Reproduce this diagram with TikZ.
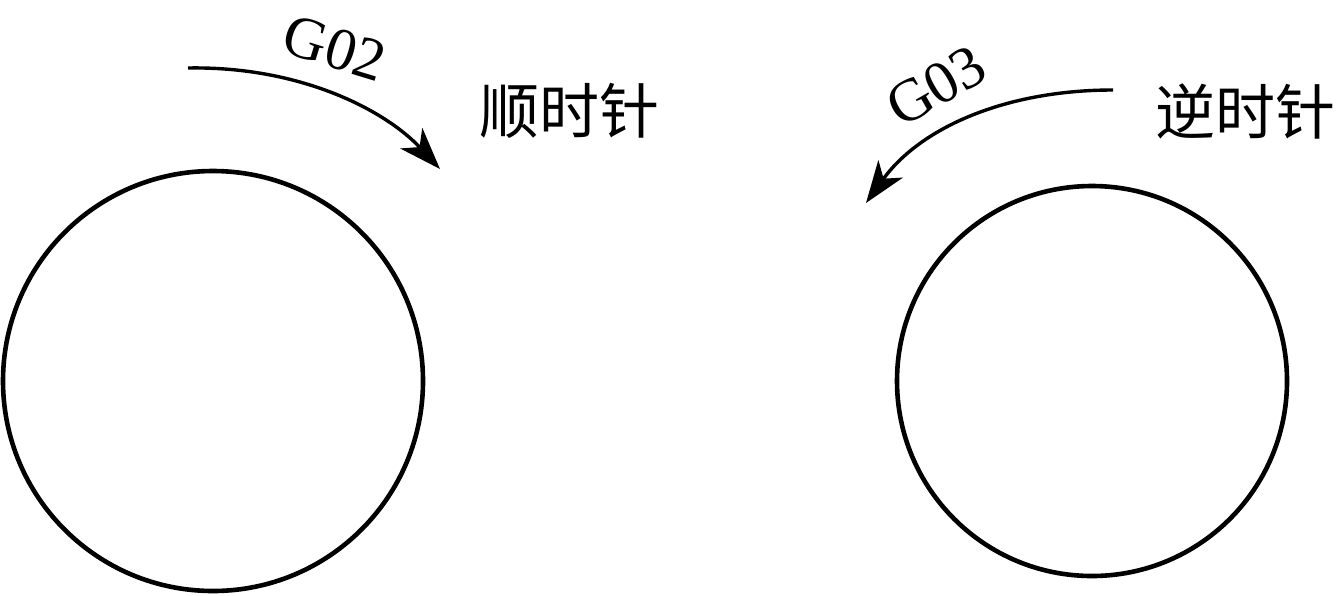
\documentclass[tikz,border=0pt]{standalone}
\usepackage{fontspec}
\setmainfont{Liberation Serif}
\newfontfamily\cjk{Noto Sans CJK SC}
\usetikzlibrary{arrows.meta}
\begin{document}
\begin{tikzpicture}[x=1pt,y=-1pt,
  ring/.style={circle, draw, line width=4.6pt, inner sep=0pt},
  turn/.style={line width=3.4pt, -{Stealth[length=42pt,width=30pt,inset=12pt]}},
  gcode/.style={font=\fontsize{60}{60}\selectfont, inner sep=0pt},
  cn/.style={font=\cjk\fontsize{60}{60}\selectfont, inner sep=0pt}]
\useasboundingbox (0,0) rectangle (1340,595);
\node[ring, minimum size=420pt] (c1) at (213,381) {};
\node[ring, minimum size=390pt] (c2) at (1092,381) {};
\coordinate (a1) at (188,68);
\coordinate (b1) at (440,169);
\coordinate (a2) at (1113,90);
\coordinate (b2) at (866,203);
\draw[turn] (a1) .. controls (300,66) and (385,110) .. (b1);
\draw[turn] (a2) .. controls (1005,90) and (920,128) .. (b2);
\node[gcode, rotate=-17] (g02) at (335,48) {G02};
\node[gcode, rotate=30] (g03) at (936,86) {G03};
\node[cn] (t1) at (569,111) {顺时针};
\node[cn] (t2) at (1245,111) {逆时针};
\end{tikzpicture}
\end{document}
